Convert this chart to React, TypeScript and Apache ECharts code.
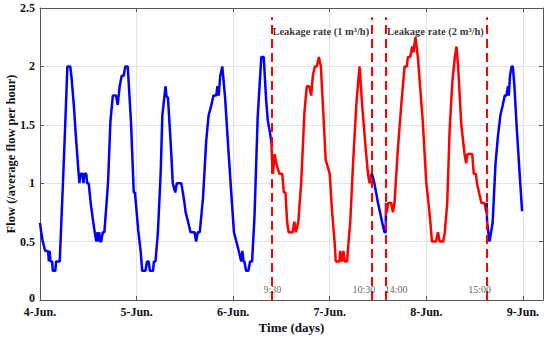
import React, { useEffect, useRef } from "react";
import * as echarts from "echarts";

// Time in hours since 4-Jun 00:00, flow in (/average flow per hour)
const dayLabels = ["4-Jun.", "5-Jun.", "6-Jun.", "7-Jun.", "8-Jun.", "9-Jun."];
const yTicks = [0, 0.5, 1, 1.5, 2, 2.5];

const normalA: [number, number][] = [
  [0, 0.66], [0.3, 0.58], [0.7, 0.5], [1.3, 0.42], [2.0, 0.42], [2.2, 0.33], [2.4, 0.42], [2.6, 0.33],
  [3.0, 0.33], [3.2, 0.25], [3.8, 0.25], [4.0, 0.33], [4.9, 0.33], [5.7, 1.0], [6.3, 1.53], [6.8, 2.0],
  [7.5, 2.0], [7.8, 1.92], [8.4, 1.67], [9.0, 1.36], [9.6, 1.08], [9.8, 1.0], [10.1, 1.08], [10.6, 1.08],
  [10.8, 1.0], [11.0, 1.08], [11.5, 1.08], [11.7, 1.0], [12.1, 1.0], [12.6, 0.83], [13.1, 0.7], [13.6, 0.58],
  [14.0, 0.5], [14.2, 0.58], [14.5, 0.5], [14.7, 0.58], [15.0, 0.5], [15.2, 0.5], [15.6, 0.58], [16.0, 0.58],
  [16.9, 1.0], [17.5, 1.53], [18.1, 1.75], [18.9, 1.75], [19.3, 1.67], [19.8, 1.83], [20.3, 1.92], [20.8, 1.92],
  [21.2, 2.0], [21.8, 2.0], [22.6, 1.53], [23.3, 0.92], [23.6, 0.92], [24.4, 0.6], [25.0, 0.42], [25.4, 0.25],
  [26.2, 0.25], [26.6, 0.33], [27.0, 0.33], [27.3, 0.25], [28.1, 0.25], [28.3, 0.33], [28.7, 0.33], [29.3, 0.58],
  [30.0, 1.1], [30.4, 1.58], [31.2, 1.83], [31.4, 1.75], [31.8, 1.73], [32.5, 1.33], [33.0, 1.0], [33.6, 0.92],
  [34.0, 1.0], [35.1, 1.0], [35.5, 0.92], [35.9, 0.83], [36.2, 0.75], [36.8, 0.67], [37.4, 0.58], [38.4, 0.58],
  [38.8, 0.5], [39.2, 0.58], [39.7, 0.58], [40.5, 0.87], [41.3, 1.36], [41.9, 1.58], [42.6, 1.67], [43.1, 1.75],
  [43.8, 1.75], [44.1, 1.83], [44.4, 1.75], [44.8, 1.92], [45.3, 2.0], [46.0, 1.73], [46.9, 1.24], [47.7, 0.83],
  [48.2, 0.58], [48.8, 0.5], [49.4, 0.42], [50.0, 0.33], [50.3, 0.42], [50.6, 0.33], [50.8, 0.33], [51.2, 0.25],
  [51.8, 0.25], [52.2, 0.33], [52.7, 0.33], [53.3, 0.71], [54.1, 1.57], [55.0, 2.08], [55.6, 2.08], [56.2, 1.71],
  [56.6, 1.54], [57.2, 1.42], [57.5, 1.35],
];

const leakA: [number, number][] = [
  [57.5, 1.35], [57.7, 1.17], [57.9, 1.08], [58.3, 1.25], [58.7, 1.17], [59.5, 1.08], [60.2, 1.08], [60.6, 0.92],
  [61.0, 0.92], [61.4, 0.67], [61.8, 0.58], [62.8, 0.58], [63.2, 0.67], [63.6, 0.58], [64.2, 0.67], [64.9, 1.0],
  [65.7, 1.6], [66.3, 1.83], [66.9, 1.83], [67.4, 1.75], [67.8, 1.92], [68.3, 2.0], [68.8, 2.0], [69.3, 2.08],
  [69.8, 2.0], [71.0, 1.2], [72.0, 1.08], [72.6, 0.75], [73.2, 0.5], [73.5, 0.33], [74.4, 0.33], [74.6, 0.42],
  [75.0, 0.33], [75.4, 0.42], [75.7, 0.33], [76.3, 0.33], [76.5, 0.42], [77.1, 0.67], [77.8, 1.17], [78.6, 1.67],
  [79.4, 2.0], [80.1, 1.65], [80.9, 1.31], [81.5, 1.08], [81.9, 1.0], [82.3, 1.08], [82.5, 1.08],
];

const normalB: [number, number][] = [
  [82.5, 1.08], [83.1, 1.0], [84.0, 0.83], [84.5, 0.75], [85.0, 0.67], [85.6, 0.58], [85.9, 0.58], [86.0, 0.83],
];

const leakB: [number, number][] = [
  [86.0, 0.83], [86.2, 0.75], [86.5, 0.83], [87.3, 0.83], [87.7, 0.75], [88.1, 0.83], [88.9, 1.28], [89.8, 1.68],
  [90.6, 2.0], [91.2, 2.0], [91.4, 2.08], [92.0, 2.08], [92.5, 2.17], [92.8, 2.12], [93.3, 2.25], [93.9, 2.08],
  [95.1, 1.54], [96.0, 1.0], [96.4, 0.88], [97.0, 0.67], [97.4, 0.5], [98.4, 0.5], [98.9, 0.58], [99.3, 0.5],
  [100.2, 0.5], [100.6, 0.58], [101.2, 0.83], [101.8, 1.46], [102.5, 1.88], [103.1, 2.08], [103.5, 2.17],
  [103.9, 2.0], [104.7, 1.5], [105.5, 1.25], [105.9, 1.17], [106.2, 1.25], [107.4, 1.25], [107.8, 1.08],
  [108.3, 1.08], [108.6, 1.0], [109.1, 0.92], [109.7, 0.83], [110.5, 0.83], [110.9, 0.75], [111.0, 0.83],
];

const normalC: [number, number][] = [
  [111.0, 0.83], [111.1, 0.67], [111.7, 0.5], [112.1, 0.58], [112.5, 0.67], [113.2, 1.17], [113.8, 1.4],
  [114.4, 1.58], [115.0, 1.67], [115.5, 1.75], [115.9, 1.75], [116.3, 1.83], [116.5, 1.75], [116.8, 1.92],
  [117.2, 2.0], [117.5, 2.0], [117.9, 1.83], [118.5, 1.46], [119.2, 1.08], [119.8, 0.76],
];

const eventHours = [57.5, 82.5, 86, 111];
const eventLabels = ["9:30", "10:30", "14:00", "15:00"];
const eventLabelShift = [1, -8, 10, -7];
const leakageStarts = [57.5, 86];
const leakageTexts = ["Leakage rate (1 m³/h)", "Leakage rate (2 m³/h)"];

const FONT = "'Liberation Serif', 'Times New Roman', serif";
const BLUE = "#0000ff";
const RED = "#ff0000";
const AXIS = "#555555";
const INK = "#111111";

export default function App() {
  const ref = useRef<HTMLDivElement>(null);

  useEffect(() => {
    if (!ref.current) return;
    const chart = echarts.init(ref.current, undefined, { renderer: "svg" });

    const lineSeries = (data: [number, number][], color: string) => ({
      type: "line",
      data,
      showSymbol: false,
      symbol: "none",
      lineStyle: { color, width: 2.5 },
      itemStyle: { color },
      silent: true,
      z: 3,
    });

    const tickFont = { fontFamily: FONT, fontWeight: "bold", fontSize: 12, color: INK };

    chart.setOption({
      animation: false,
      backgroundColor: "#ffffff",
      grid: { left: 40, right: 7, top: 8, bottom: 39, show: false, outerBoundsMode: "none", containLabel: false },
      xAxis: [
        {
          type: "value",
          min: 0,
          max: 125,
          interval: 24,
          position: "bottom",
          axisLine: { show: true, onZero: false, lineStyle: { color: AXIS, width: 1 } },
          axisTick: { show: true, inside: true, length: 4, lineStyle: { color: AXIS } },
          splitLine: { show: true, lineStyle: { color: "#e4e4e4", width: 1 } },
          axisLabel: {
            margin: 6,
            lineHeight: 12,
            ...tickFont,
            formatter: (v: number) => {
              const i = v / 24;
              return Number.isInteger(i) && dayLabels[i] ? dayLabels[i] : "";
            },
          },
          name: "Time (days)",
          nameLocation: "middle",
          nameGap: 21,
          nameMoveOverlap: false,
          nameTextStyle: { fontFamily: FONT, fontWeight: "bold", fontSize: 13, color: INK },
        },
        {
          type: "value",
          min: 0,
          max: 125,
          interval: 24,
          position: "top",
          axisLine: { show: true, onZero: false, lineStyle: { color: AXIS, width: 1 } },
          axisTick: { show: true, inside: true, length: 4, lineStyle: { color: AXIS } },
          splitLine: { show: false },
          axisLabel: { show: false },
        },
      ],
      yAxis: [
        {
          type: "value",
          min: yTicks[0],
          max: yTicks[yTicks.length - 1],
          interval: 0.5,
          position: "left",
          axisLine: { show: true, onZero: false, lineStyle: { color: AXIS, width: 1 } },
          axisTick: { show: true, inside: true, length: 4, lineStyle: { color: AXIS } },
          splitLine: { show: true, lineStyle: { color: "#e4e4e4", width: 1 } },
          axisLabel: {
            margin: 5,
            lineHeight: 12,
            ...tickFont,
            formatter: (v: number) => (v === 0 ? "{z|0}" : String(v)),
            rich: { z: { ...tickFont, lineHeight: 12, padding: [0, 0, 5, 0] } },
          },
          name: "Flow (/average flow per hour)",
          nameLocation: "middle",
          nameGap: 22,
          nameMoveOverlap: false,
          nameTextStyle: { fontFamily: FONT, fontWeight: "bold", fontSize: 12.5, lineHeight: 14, color: INK },
        },
        {
          type: "value",
          min: yTicks[0],
          max: yTicks[yTicks.length - 1],
          interval: 0.5,
          position: "right",
          axisLine: { show: true, onZero: false, lineStyle: { color: AXIS, width: 1 } },
          axisTick: { show: true, inside: true, length: 4, lineStyle: { color: AXIS } },
          splitLine: { show: false },
          axisLabel: { show: false },
        },
      ],
      series: [
        lineSeries(normalA, BLUE),
        lineSeries(leakA, RED),
        lineSeries(normalB, BLUE),
        lineSeries(leakB, RED),
        lineSeries(normalC, BLUE),
        {
          type: "line",
          data: [],
          silent: true,
          z: 4,
          markLine: {
            silent: true,
            symbol: ["none", "none"],
            label: { show: false },
            lineStyle: { color: RED, width: 2, type: [9, 5] },
            data: eventHours.map((h) => [{ coord: [h, 0] }, { coord: [h, 2.42] }]),
          },
        },
        {
          type: "scatter",
          silent: true,
          symbolSize: 0.1,
          itemStyle: { color: "rgba(0,0,0,0)" },
          z: 5,
          data: eventHours.map((h, i) => ({
            value: [h, 0.094],
            label: {
              show: true,
              position: "inside",
              offset: [eventLabelShift[i], 0],
              formatter: eventLabels[i],
              fontFamily: FONT,
              fontSize: 10,
              color: "#333333",
            },
          })),
        },
        {
          type: "scatter",
          silent: true,
          symbolSize: 0.1,
          itemStyle: { color: "rgba(0,0,0,0)" },
          z: 5,
          data: leakageStarts.map((h, i) => ({
            value: [h, 2.3],
            label: {
              show: true,
              position: "right",
              distance: 1,
              formatter: leakageTexts[i],
              fontFamily: FONT,
              fontWeight: "bold",
              fontSize: 10.5,
              color: "#000000",
            },
          })),
        },
      ],
    });

    return () => chart.dispose();
  }, []);

  return (
    <div
      ref={ref}
      style={{ position: "absolute", left: 0, top: 0, width: 550, height: 339, background: "#fff" }}
    />
  );
}
